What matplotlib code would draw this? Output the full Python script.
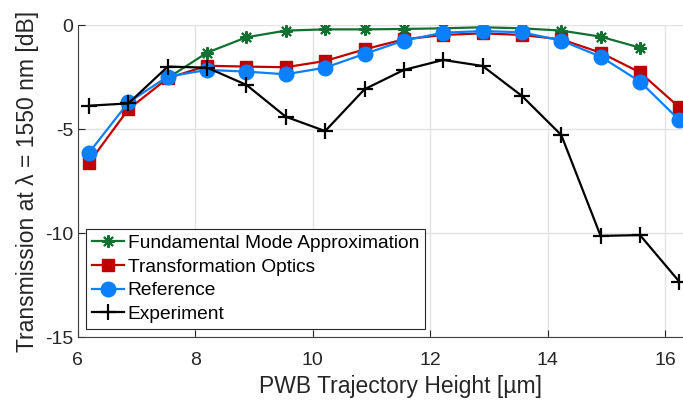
import matplotlib
matplotlib.use("Agg")
from matplotlib import pyplot as plt

# trajectory heights [um]
height = [6.19, 6.86, 7.53, 8.20, 8.87, 9.54, 10.21, 10.88,
          11.55, 12.22, 12.89, 13.56, 14.23, 14.90, 15.57, 16.24]

# transmission [dB]
fma = [-2.55, -1.33, -0.59, -0.27, -0.21, -0.21,
       -0.19, -0.16, -0.11, -0.16, -0.27, -0.56, -1.09]
fma_height = height[2:15]
to = [-6.62, -4.05, -2.56, -1.96, -2.00, -2.03, -1.73, -1.17,
      -0.69, -0.48, -0.40, -0.48, -0.69, -1.33, -2.28, -3.96]
ref = [-6.14, -3.72, -2.48, -2.16, -2.24, -2.37, -2.05, -1.39,
       -0.75, -0.37, -0.29, -0.35, -0.75, -1.52, -2.72, -4.57]
exp = [-3.88, -3.77, -2.00, -2.05, -2.88, -4.41, -5.10, -3.09,
       -2.16, -1.68, -1.97, -3.41, -5.29, -10.14, -10.10, -12.34]

plt.rcParams['font.family'] = ['Liberation Sans', 'DejaVu Sans']
plt.rcParams['axes.unicode_minus'] = False

fig = plt.figure(figsize=(6.83, 4.0), dpi=100)
# axes runs past the right edge of the figure (cropped like the original)
ax = fig.add_axes([0.114, 0.1575, 0.946, 0.78])

ax.plot(fma_height, fma, color='#127030', lw=1.6, marker=(8, 2, 0),
        markersize=9, mew=1.5, label='Fundamental Mode Approximation')
ax.plot(height, to, color='#c00000', lw=1.6, marker='s',
        markersize=9, label='Transformation Optics')
ax.plot(height, ref, color='#0a80ff', lw=1.6, marker='o',
        markersize=10.5, label='Reference')
ax.plot(height, exp, color='black', lw=1.6, marker='+',
        markersize=11, mew=1.6, label='Experiment')

ax.set_xlim(6, 17)
ax.set_ylim(-15, 0)
ax.set_xticks([6, 8, 10, 12, 14, 16])
ax.set_yticks([-15, -10, -5, 0])
ax.set_xlabel('PWB Trajectory Height [µm]', fontsize=16.5, color='#262626',
              labelpad=4)
ax.set_ylabel('Transmission at λ = 1550 nm [dB]', fontsize=16.5,
              color='#262626', labelpad=4)
ax.tick_params(direction='in', labelsize=14, colors='#262626', length=5)
ax.tick_params(axis='x', pad=11)
ax.grid(True, color='#e3e3e3', lw=1)
ax.set_axisbelow(True)
for side in ['top', 'right']:
    ax.spines[side].set_visible(False)
for side in ['left', 'bottom']:
    ax.spines[side].set_color('#404040')

leg = ax.legend(loc='lower left', fontsize=13.8, fancybox=False,
                edgecolor='#262626', framealpha=1, handlelength=1.67,
                borderaxespad=0.42, labelspacing=0.33, handletextpad=0.2,
                borderpad=0.3)
leg.get_frame().set_linewidth(0.8)

fig.savefig('out.png', dpi=100)
